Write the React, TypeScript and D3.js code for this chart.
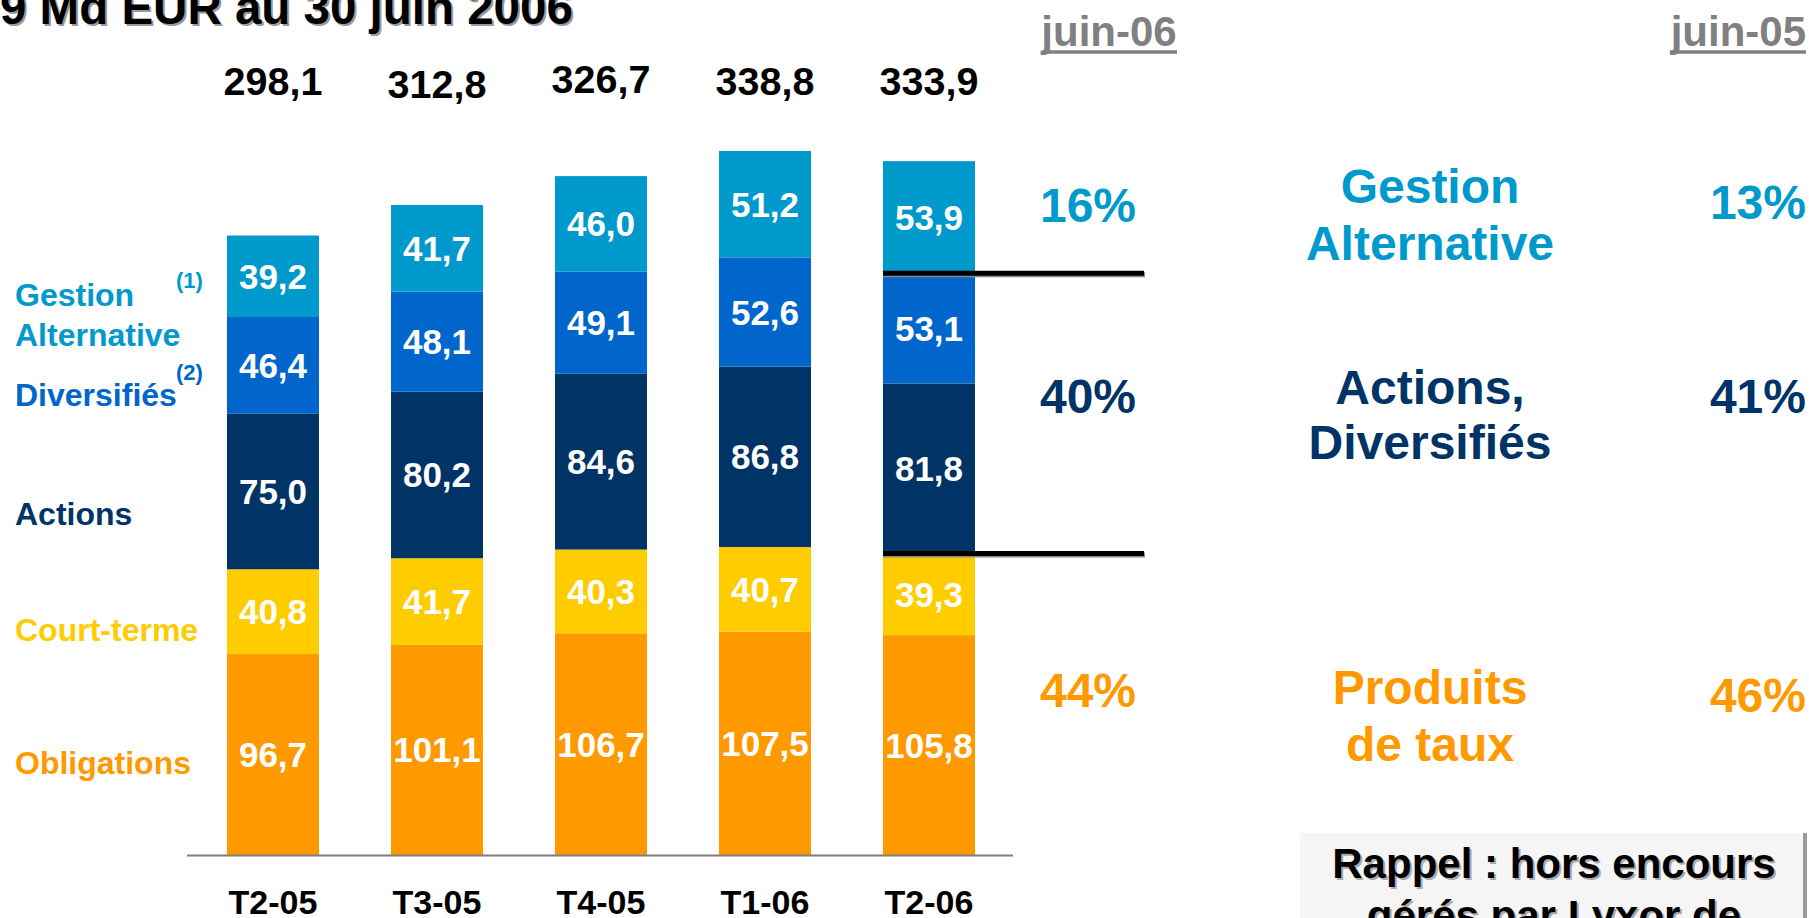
import React from "react";
import * as d3 from "d3";

const categories = ["T2-05", "T3-05", "T4-05", "T1-06", "T2-06"];
const seriesKeys = ["Obligations", "Court-terme", "Actions", "Diversifiés", "Gestion Alternative"];
const obligations = [96.7, 101.1, 106.7, 107.5, 105.8];
const courtTerme = [40.8, 41.7, 40.3, 40.7, 39.3];
const actions = [75.0, 80.2, 84.6, 86.8, 81.8];
const diversifies = [46.4, 48.1, 49.1, 52.6, 53.1];
const gestionAlt = [39.2, 41.7, 46.0, 51.2, 53.9];
const totals = [298.1, 312.8, 326.7, 338.8, 333.9];
const shareJune06 = ["16%", "40%", "44%"];
const shareJune05 = ["13%", "41%", "46%"];

// layout-only vertical nudges of the total labels (px)
const totalNudge = [0, 3, -2, 0, 0];

const colors: Record<string, string> = {
  Obligations: "#FF9900",
  "Court-terme": "#FFCC00",
  Actions: "#003366",
  "Diversifiés": "#0066CC",
  "Gestion Alternative": "#0099CC",
};

const FONT = "'Liberation Sans', Arial, sans-serif";
const fmt = (v: number) => v.toFixed(1).replace(".", ",");

export default function App() {
  const W = 1809, H = 918;
  const rows = categories.map((c, i) => ({
    cat: c,
    Obligations: obligations[i],
    "Court-terme": courtTerme[i],
    Actions: actions[i],
    "Diversifiés": diversifies[i],
    "Gestion Alternative": gestionAlt[i],
  }));
  const stacked = d3.stack<any>().keys(seriesKeys)(rows);

  const x = d3.scaleBand().domain(categories).range([191, 1011]).paddingInner(72 / 164).paddingOuter(0.2195);
  const y = d3.scaleLinear().domain([0, 340]).range([855, 855 - 340 * 2.078]);

  const last = categories.length - 1;
  const lineTopVal = stacked[3][last][1];
  const lineBotVal = stacked[2][last][0];
  const lineX0 = x(categories[last])!;

  return (
    <svg width={W} height={H} style={{ position: "absolute", left: 0, top: 0, background: "#fff" }} fontFamily={FONT} fontWeight="bold">
      {/* title */}
      <text x={2} y={26} fontSize={47.5} fill="#999">9 Md EUR au 30 juin 2006</text>
      <text x={0} y={24} fontSize={47.5} fill="#000">9 Md EUR au 30 juin 2006</text>

      {/* bars */}
      {stacked.map((s) => (
        <g key={s.key}>
          {s.map((d, i) => (
            <g key={i}>
              <rect x={x(categories[i])} y={y(d[1])} width={x.bandwidth()} height={y(d[0]) - y(d[1])} fill={colors[s.key]} />
              <text x={x(categories[i])! + x.bandwidth() / 2} y={(y(d[0]) + y(d[1])) / 2 + 12.5} textAnchor="middle" fontSize={35} fill="#fff">
                {fmt(d[1] - d[0])}
              </text>
            </g>
          ))}
        </g>
      ))}

      {/* totals */}
      {totals.map((t, i) => (
        <text key={i} x={x(categories[i])! + x.bandwidth() / 2} y={95 + totalNudge[i]} textAnchor="middle" fontSize={39.5} fill="#000">{fmt(t)}</text>
      ))}

      {/* axis */}
      <line x1={187} x2={1013} y1={855.5} y2={855.5} stroke="#808080" strokeWidth={2} />
      {categories.map((c) => (
        <text key={c} x={x(c)! + x.bandwidth() / 2} y={914} textAnchor="middle" fontSize={34} fill="#000">{c}</text>
      ))}

      {/* left legend */}
      <text x={15} y={306} fontSize={32} fill="#0099CC">Gestion</text>
      <text x={15} y={346} fontSize={32} fill="#0099CC">Alternative</text>
      <text x={176} y={288} fontSize={22} fill="#0099CC">(1)</text>
      <text x={15} y={406} fontSize={32} fill="#0066CC">Diversifiés</text>
      <text x={176} y={380} fontSize={22} fill="#0066CC">(2)</text>
      <text x={15} y={525} fontSize={32} fill="#003366">Actions</text>
      <text x={15} y={641} fontSize={32} fill="#FFCC00">Court-terme</text>
      <text x={15} y={774} fontSize={32} fill="#FF9900">Obligations</text>

      {/* separator lines */}
      <line x1={lineX0} x2={1145} y1={y(lineTopVal) + 1.5} y2={y(lineTopVal) + 1.5} stroke="#888" strokeWidth={5} />
      <line x1={lineX0} x2={1144} y1={y(lineTopVal)} y2={y(lineTopVal)} stroke="#000" strokeWidth={5} />
      <line x1={lineX0} x2={1145} y1={y(lineBotVal) + 1.5} y2={y(lineBotVal) + 1.5} stroke="#888" strokeWidth={5} />
      <line x1={lineX0} x2={1144} y1={y(lineBotVal)} y2={y(lineBotVal)} stroke="#000" strokeWidth={5} />

      {/* right panel headers */}
      <text x={1109} y={46} textAnchor="middle" fontSize={42} fill="#808080">juin-06</text>
      <line x1={1042} x2={1177} y1={52} y2={52} stroke="#808080" strokeWidth={3.5} />
      <text x={1806} y={46} textAnchor="end" fontSize={42} fill="#808080">juin-05</text>
      <line x1={1670} x2={1806} y1={52} y2={52} stroke="#808080" strokeWidth={3.5} />

      {/* shares */}
      <text x={1088} y={222} textAnchor="middle" fontSize={48} fill="#0099CC">{shareJune06[0]}</text>
      <text x={1088} y={413} textAnchor="middle" fontSize={48} fill="#003366">{shareJune06[1]}</text>
      <text x={1088} y={707} textAnchor="middle" fontSize={48} fill="#FF9900">{shareJune06[2]}</text>
      <text x={1806} y={219} textAnchor="end" fontSize={48} fill="#0099CC">{shareJune05[0]}</text>
      <text x={1806} y={413} textAnchor="end" fontSize={48} fill="#003366">{shareJune05[1]}</text>
      <text x={1806} y={712} textAnchor="end" fontSize={48} fill="#FF9900">{shareJune05[2]}</text>

      {/* center labels */}
      <text x={1430} y={203} textAnchor="middle" fontSize={48} fill="#0099CC">Gestion</text>
      <text x={1430} y={260} textAnchor="middle" fontSize={48} fill="#0099CC">Alternative</text>
      <text x={1430} y={404} textAnchor="middle" fontSize={48} fill="#003366">Actions,</text>
      <text x={1430} y={459} textAnchor="middle" fontSize={48} fill="#003366">Diversifiés</text>
      <text x={1430} y={704} textAnchor="middle" fontSize={48} fill="#FF9900">Produits</text>
      <text x={1430} y={761} textAnchor="middle" fontSize={48} fill="#FF9900">de taux</text>

      {/* box */}
      <rect x={1300} y={833} width={505} height={90} fill="#F5F5F5" />
      <line x1={1805} x2={1805} y1={833} y2={918} stroke="#999" strokeWidth={4} />
      <text x={1556} y={880} textAnchor="middle" fontSize={42} fill="#aaa">Rappel : hors encours</text>
      <text x={1554} y={878} textAnchor="middle" fontSize={42} fill="#000">Rappel : hors encours</text>
      <text x={1556} y={932} textAnchor="middle" fontSize={42} fill="#aaa">gérés par Lyxor de</text>
      <text x={1554} y={930} textAnchor="middle" fontSize={42} fill="#000">gérés par Lyxor de</text>
    </svg>
  );
}
